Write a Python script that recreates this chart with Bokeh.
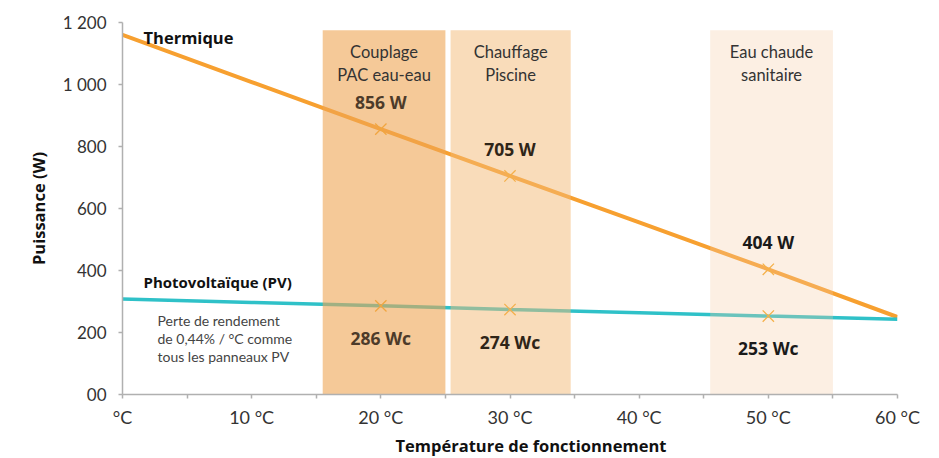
from bokeh.plotting import figure
from bokeh.models import FixedTicker, Title, ColumnDataSource
from bokeh.core.properties import value
from bokeh.embed import file_html
from bokeh.resources import INLINE

# ---- data ----
temps = [0, 10, 20, 30, 40, 50, 60]
thermique = [1160, 1008, 856, 705, 555, 404, 250]
pv = [308, 297, 286, 274, 264, 253, 243]

hl_temps = [20, 30, 50]
hl_therm = [856, 705, 404]
hl_pv = [286, 274, 253]
hl_therm_txt = ["856 W", "705 W", "404 W"]
hl_pv_txt = ["286 Wc", "274 Wc", "253 Wc"]

band_left = [15.5, 25.4, 45.5]
band_right = [25.0, 34.7, 55.0]
band_top = [1175, 1175, 1175]
band_names = ["Couplage\nPAC eau-eau", "Chauffage\nPiscine", "Eau chaude\nsanitaire"]

y_ticks = [0, 200, 400, 600, 800, 1000, 1200]
y_tick_labels = ["00", "200", "400", "600", "800", "1 000", "1 200"]
x_ticks = [0, 10, 20, 30, 40, 50, 60]
x_tick_labels = ["°C", "10 °C", "20 °C", "30 °C", "40 °C", "50 °C", "60 °C"]
x_minor = [5, 15, 25, 35, 45, 55]

note = "Perte de rendement\nde 0,44% / °C comme\ntous les panneaux PV"

REG = "Lato"
BOLD = "Open Sans"

p = figure(width=939, height=458, x_range=(0, 60), y_range=(0, 1200),
           output_backend="svg", toolbar_location=None,
           min_border_left=122, min_border_right=42,
           min_border_top=22, min_border_bottom=8)
p.outline_line_color = None
p.xgrid.grid_line_color = None
p.ygrid.grid_line_color = None
p.background_fill_color = "white"
p.border_fill_color = "white"

# lines
p.line(temps, thermique, line_color="#F7A030", line_width=4)
p.line(temps, pv, line_color="#2FC1C8", line_width=3.5)

# highlighted markers (under bands, so they look faded)
p.scatter(hl_temps, hl_therm, marker="x", size=16, line_color="#F5A623", line_width=1.3)
p.scatter(hl_temps, hl_pv, marker="x", size=16, line_color="#F5A623", line_width=1.3)

# bands (translucent, over the lines)
band_colors = ["#EFA553", "#F4BA75", "#F5CAA2"]
band_alphas = [0.6, 0.5, 0.3]
bsrc = ColumnDataSource(dict(left=band_left, right=band_right, top=band_top,
                             bottom=[0] * len(band_left), color=band_colors,
                             alpha=band_alphas))
p.quad(left="left", right="right", top="top", bottom="bottom", source=bsrc,
       fill_color="color", fill_alpha="alpha", line_color=None)

# band names
cx = [(a + b) / 2 for a, b in zip(band_left, band_right)]
p.text(cx, band_top, text=band_names, text_align="center", text_baseline="top",
       y_offset=12, text_font=value(REG), text_font_size="16.5px",
       text_color="#333333", text_line_height=1.15)

# value labels
p.text(hl_temps, hl_therm, text=hl_therm_txt, text_align="center",
       text_baseline="middle", y_offset=-27, text_font=value(BOLD),
       text_font_style="bold", text_font_size="17.5px",
       text_color=["#4d3b2a", "#2f2518", "#1a1a1a"])
p.text(hl_temps, hl_pv, text=hl_pv_txt, text_align="center",
       text_baseline="middle", y_offset=32, text_font=value(BOLD),
       text_font_style="bold", text_font_size="17.5px",
       text_color=["#4d3b2a", "#2f2518", "#1a1a1a"])

# series labels
p.text([temps[0]], [thermique[0]], text=["Thermique"], text_align="left",
       text_baseline="middle", x_offset=21, y_offset=3, text_font=value(BOLD),
       text_font_style="bold", text_font_size="16.5px", text_color="#111111")
p.text([temps[0]], [pv[0]], text=["Photovoltaïque (PV)"], text_align="left",
       text_baseline="middle", x_offset=21, y_offset=-17, text_font=value(BOLD),
       text_font_style="bold", text_font_size="15px", text_color="#111111")
p.text([temps[0]], [pv[0]], text=[note], text_align="left",
       text_baseline="top", x_offset=35, y_offset=13, text_font=value(REG),
       text_font_size="14px", text_color="#444444", text_line_height=1.05)

# axes
p.yaxis.ticker = FixedTicker(ticks=y_ticks)
p.yaxis.major_label_overrides = dict(zip(y_ticks, y_tick_labels))
p.xaxis.ticker = FixedTicker(ticks=x_ticks, minor_ticks=x_minor)
p.xaxis.major_label_overrides = dict(zip(x_ticks, x_tick_labels))

for ax in (p.xaxis, p.yaxis):
    ax.axis_line_color = "#b0b0b0"
    ax.axis_line_width = 1.5
    ax.major_tick_line_color = "#b0b0b0"
    ax.major_tick_line_width = 1.5
    ax.major_tick_in = 0
    ax.major_tick_out = 4
    ax.minor_tick_line_color = "#b0b0b0"
    ax.minor_tick_line_width = 1.5
    ax.minor_tick_in = 0
    ax.minor_tick_out = 4
    ax.major_label_text_font = REG
    ax.major_label_text_color = "#333333"

p.yaxis.major_label_text_font_size = "17px"
p.xaxis.major_label_text_font_size = "18px"
p.yaxis.minor_tick_line_color = None
p.yaxis.major_label_standoff = 12
p.xaxis.major_label_standoff = 7

p.yaxis.axis_label = "Puissance (W)"
p.yaxis.axis_label_text_font = BOLD
p.yaxis.axis_label_text_font_style = "bold"
p.yaxis.axis_label_text_font_size = "16.5px"
p.yaxis.axis_label_text_color = "#111111"
p.yaxis.axis_label_standoff = 10

xt = Title(text="Température de fonctionnement", align="left", offset=273,
           text_font=BOLD, text_font_style="bold", text_font_size="16.5px",
           text_color="#111111", standoff=3)
p.add_layout(xt, "below")

open("out.html", "w").write(file_html(p, INLINE))
